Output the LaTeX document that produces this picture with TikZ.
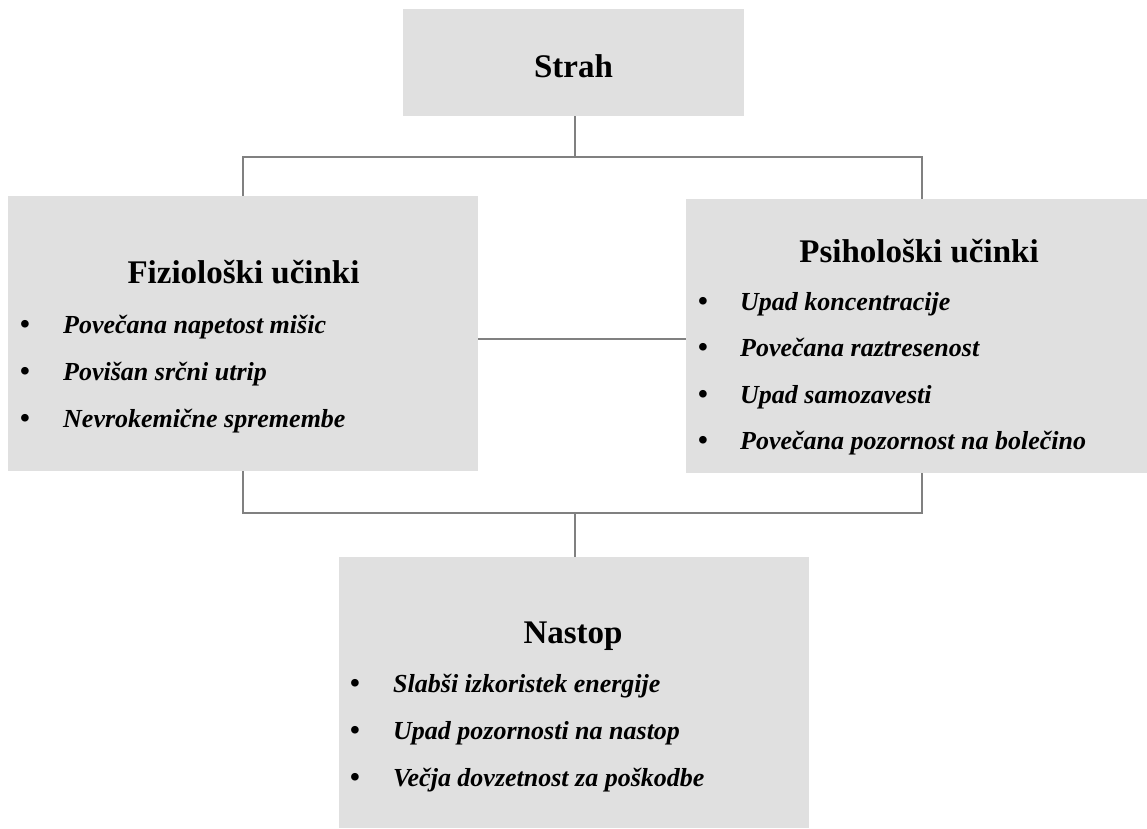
\documentclass[tikz,border=0pt]{standalone}
\usepackage{fontspec}
\setmainfont{Liberation Serif}
\definecolor{boxfill}{HTML}{E0E0E0}
\definecolor{linegray}{HTML}{808080}
\newcommand\ttlfont{\fontsize{33}{40}\selectfont\bfseries}
\newcommand\itmfont{\fontsize{26}{31}\selectfont\bfseries\itshape}
\begin{document}
\begin{tikzpicture}[x=1pt,y=-1pt,
  box/.style={draw=none,fill=boxfill,rectangle,inner sep=0pt},
  conn/.style={draw=linegray,line width=2pt},
  ttl/.style={anchor=base,inner sep=0pt,font=\ttlfont},
  bul/.style={anchor=base,inner sep=0pt,font=\fontsize{28}{31}\selectfont\bfseries},
  itm/.style={anchor=base west,inner sep=0pt,font=\itmfont}]
\useasboundingbox (0,0) rectangle (1147,828);
\fill[white] (0,0) rectangle (1147,828);
% boxes
\node[box,minimum width=341pt,minimum height=107pt] (S) at (573.5,62.5) {};
\node[box,minimum width=470pt,minimum height=275pt] (L) at (243,333.5) {};
\node[box,minimum width=461pt,minimum height=274pt] (R) at (916.5,336) {};
\node[box,minimum width=470pt,minimum height=271pt] (N) at (574,692.5) {};
% connectors
\coordinate (j1) at (575,157);
\coordinate (j2) at (575,513);
\coordinate (m) at (0,339);
\draw[conn] (S.south -| j1) -- (j1);
\draw[conn] (L.north) |- (j1) -| (R.north -| 922,0);
\draw[conn] (L.south) |- (j2) -| (R.south -| 922,0);
\draw[conn] (j2) -- (N.north -| j2);
\draw[conn] (L.east |- m) -- (R.west |- m);
% texts
\node[ttl] (tS) at (573.5,77) {Strah};
\node[ttl] (tL) at (243.5,283) {Fiziološki učinki};
\node[bul] (bL1) at (25,333) {•};
\node[itm] (iL1) at (63,333) {Povečana napetost mišic};
\node[bul] (bL2) at (25,380) {•};
\node[itm] (iL2) at (63,380) {Povišan srčni utrip};
\node[bul] (bL3) at (25,427) {•};
\node[itm] (iL3) at (63,427) {Nevrokemične spremembe};
\node[ttl] (tR) at (919,262) {Psihološki učinki};
\node[bul] (bR1) at (703,310) {•};
\node[itm] (iR1) at (740,310) {Upad koncentracije};
\node[bul] (bR2) at (703,356) {•};
\node[itm] (iR2) at (740,356) {Povečana raztresenost};
\node[bul] (bR3) at (703,403) {•};
\node[itm] (iR3) at (740,403) {Upad samozavesti};
\node[bul] (bR4) at (703,449) {•};
\node[itm] (iR4) at (740,449) {Povečana pozornost na bolečino};
\node[ttl] (tN) at (573,643) {Nastop};
\node[bul] (bN1) at (355,692) {•};
\node[itm] (iN1) at (393,692) {Slabši izkoristek energije};
\node[bul] (bN2) at (355,739) {•};
\node[itm] (iN2) at (393,739) {Upad pozornosti na nastop};
\node[bul] (bN3) at (355,786) {•};
\node[itm] (iN3) at (393,786) {Večja dovzetnost za poškodbe};
\end{tikzpicture}
\end{document}
